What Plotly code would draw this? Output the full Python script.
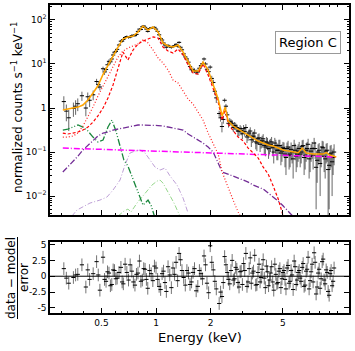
import plotly.graph_objects as go

# ---- model curves, sampled on one energy grid (keV) ----
e_model = [0.306, 0.326, 0.348, 0.371, 0.395, 0.421, 0.449, 0.478, 0.510, 0.543,
           0.579, 0.617, 0.657, 0.700, 0.747, 0.795, 0.848, 0.903, 0.963, 1.026,
           1.093, 1.165, 1.241, 1.323, 1.410, 1.502, 1.601, 1.706, 1.818, 1.938,
           2.065, 2.201, 2.316, 2.406, 2.499, 2.663, 2.838, 3.025, 3.223, 3.435,
           3.661, 3.901, 4.157, 4.430, 4.721, 5.031, 5.362, 5.714, 6.089, 6.41,
           6.742, 7.369, 7.853, 8.369, 8.696, 9.033, 9.504, 9.874]

total_model = [0.90, 0.95, 1.00, 1.05, 1.17, 1.52, 2.19, 3.2, 5.8, 9.5,
               15.2, 24.3, 37.0, 41.1, 43.3, 53.4, 73.1, 59.2, 69.3, 53.4,
               30.0, 25.7, 24.3, 27.0, 18.7, 11.1, 6.93, 6.93, 11.1, 7.31,
               3.51, 1.60, 0.66, 1.05, 0.51, 0.39, 0.333, 0.285, 0.243, 0.208,
               0.178, 0.160, 0.144, 0.137, 0.123, 0.111, 0.105, 0.100, 0.097, 0.123,
               0.095, 0.090, 0.090, 0.090, 0.097, 0.086, 0.081, 0.077]

hot_apec = [0.27, 0.257, 0.27, 0.285, 0.316, 0.37, 0.48, 0.66, 1.0, 1.69,
            3.33, 8.11, 18.7, 12.3, 20.8, 28.5, 33.3, 37.0, 41.1, 39.0,
            24.3, 19.7, 17.8, 21.9, 16.0, 9.49, 6.24, 5.93, 10.0, 5.62,
            2.85, 1.37, 0.53, 0.95, 0.433, 0.30, 0.219, 0.178, 0.123, 0.095,
            0.073, 0.0456, 0.0316, 0.0169, 0.00855, 0.00351, 0.0015, None, None, None,
            None, None, None, None, None, None, None, None]

cool_apec = [0.219, 0.219, 0.231, 0.27, 0.39, 0.624, 1.05, 1.87, 3.16, 5.34,
             9.0, 14.4, 19.7, 23.1, 25.7, 28.5, 35.1, 30.0, 20.8, 13.7,
             10.5, 7.31, 4.33, 3.70, 2.43, 1.60, 1.23, 0.81, 0.53, 0.27,
             0.16, 0.09, 0.035, 0.0231, 0.0152, 0.0081, 0.00433, 0.0026, None, None,
             None, None, None, None, None, None, None, None, None, None,
             None, None, None, None, None, None, None, None]

bkg_curve = [0.0351, 0.0456, 0.0593, 0.081, 0.111, 0.144, 0.187, 0.231, 0.27, 0.285,
             0.316, 0.333, 0.351, 0.37, 0.39, 0.411, 0.411, 0.411, 0.411, 0.40,
             0.39, 0.37, 0.351, 0.333, 0.316, 0.257, 0.219, 0.187, 0.16, 0.13,
             0.10, 0.0562, 0.0351, 0.0333, 0.0316, 0.0285, 0.0256, 0.0231, 0.0208, 0.0178,
             0.016, 0.0144, 0.0117, 0.00949, 0.00769, 0.00593, 0.00456, 0.00333, 0.0026, None,
             None, None, None, None, None, None, None, None]

# flat power law
e_pow = [0.306, 0.449, 0.657, 0.963, 1.410, 2.065, 3.025, 4.430, 6.489, 9.874]
pow_curve = [0.123, 0.117, 0.111, 0.105, 0.103, 0.097, 0.093, 0.088, 0.083, 0.077]

# soft components
e_green = [0.306, 0.326, 0.348, 0.371, 0.395, 0.421, 0.449, 0.478, 0.510, 0.543,
           0.571, 0.601, 0.633, 0.665, 0.700, 0.747, 0.795, 0.848, 0.903, 0.938, 0.987]
green_curve = [0.316, 0.333, 0.370, 0.411, 0.370, 0.300, 0.219, 0.169, 0.187, 0.370,
               0.533, 0.300, 0.137, 0.0658, 0.048, 0.0243, 0.0123, 0.00624, 0.0081, 0.00624, 0.00316]

e_lav = [0.3435, 0.366, 0.432, 0.490, 0.536, 0.579, 0.633, 0.674, 0.718, 0.765,
         0.816, 0.870, 0.927, 0.987, 1.052, 1.121, 1.195, 1.306, 1.410, 1.502]
lav_curve = [0.00351, 0.00481, 0.00693, 0.0081, 0.00949, 0.0137, 0.0231, 0.0507, 0.0949, 0.105,
             0.111, 0.0949, 0.0658, 0.0456, 0.039, 0.0433, 0.0285, 0.0178, 0.009, 0.00411]

e_lgreen = [0.617, 0.665, 0.700, 0.727, 0.785, 0.837, 0.892, 0.950, 1.013, 1.052,
            1.093, 1.150, 1.195, 1.257, 1.323, 1.374]
lgreen_curve = [0.00351, 0.00456, 0.00507, 0.00433, 0.00693, 0.00949, 0.0137, 0.0178, 0.0219, 0.0231,
                0.0197, 0.0137, 0.0105, 0.00693, 0.00433, 0.00316]

# ---- spectrum data (first set of bins) ----
e_data = [0.31, 0.33, 0.35, 0.37, 0.39, 0.41, 0.43, 0.45, 0.47, 0.49,
          0.51, 0.53, 0.55, 0.57, 0.59, 0.61, 0.64, 0.66, 0.69, 0.72,
          0.75, 0.78, 0.81, 0.84, 0.87, 0.90, 0.94, 0.98, 1.02, 1.06,
          1.10, 1.14, 1.19, 1.24, 1.29, 1.34, 1.39, 1.45, 1.51, 1.57,
          1.63, 1.70, 1.77, 1.84, 1.91, 1.99, 2.07, 2.15,
          2.23, 2.31, 2.39, 2.47, 2.55, 2.63, 2.71, 2.79, 2.87, 2.95,
          3.04, 3.13, 3.22, 3.31, 3.40, 3.50, 3.60, 3.70, 3.80, 3.90,
          4.01, 4.12, 4.23, 4.34, 4.46, 4.58, 4.70, 4.82, 4.95,
          5.08, 5.21, 5.35, 5.49, 5.63, 5.78, 5.93,
          6.08, 6.24, 6.40, 6.56, 6.73, 6.90,
          7.08, 7.26, 7.45, 7.64, 7.84,
          8.04, 8.25, 8.46, 8.68, 8.90,
          9.13, 9.36, 9.60]

counts = [1.4, 0.6, 0.98, 1.25, 1.9, 1.0, 1.5, 2.0, 4.0, 3.0,
          7.8, 7.5, 11.5, 13.0, 18.5, 21.5, 33, 36, 42, 41,
          45, 47, 62, 70, 68, 55, 66, 68, 55, 38,
          30, 24, 25, 25, 28, 31, 21, 14.5, 11, 7.4,
          7.1, 6.6, 9.2, 13.0, 7.6, 8.5, 3.8, 1.7,
          0.75, 0.38, 1.5, 0.7, 0.5, 0.45, 0.4, 0.36, 0.3, 0.31,
          0.34, 0.36, 0.24, 0.3, 0.22, 0.27, 0.16, 0.21, 0.17, 0.2,
          0.13, 0.16, 0.14, 0.17, 0.10, 0.14, 0.11, 0.14, 0.105,
          0.12, 0.075, 0.13, 0.09, 0.10, 0.14, 0.08,
          0.105, 0.09, 0.135, 0.075, 0.11, 0.15,
          0.08, 0.12, 0.16, 0.045, 0.10,
          0.055, 0.13, 0.08, 0.105, 0.04,
          0.09, 0.06, 0.10]

count_err = [0.45, 0.3, 0.35, 0.4, 0.45, 0.35, 0.45, 0.5, 0.6, 0.5,
             0.9, 1.0, 1.3, 1.4, 1.7, 1.9, 2.4, 2.5, 2.8, 2.8,
             3.0, 3.0, 3.5, 4.0, 4.0, 3.5, 4.0, 4.0, 3.5, 3.0,
             2.5, 2.0, 2.0, 2.0, 2.0, 2.2, 1.8, 1.5, 1.2, 1.0,
             0.9, 0.9, 1.0, 1.2, 1.0, 0.9, 0.6, 0.4,
             0.12, 0.1, 0.16, 0.12, 0.09, 0.08, 0.08, 0.07, 0.07, 0.07,
             0.07, 0.07, 0.06, 0.065, 0.06, 0.06, 0.055, 0.055, 0.05, 0.055,
             0.05, 0.05, 0.05, 0.05, 0.045, 0.05, 0.045, 0.05, 0.045,
             0.045, 0.045, 0.05, 0.045, 0.045, 0.05, 0.045,
             0.045, 0.045, 0.05, 0.045, 0.05, 0.05,
             0.045, 0.05, 0.05, 0.04, 0.05,
             0.045, 0.05, 0.045, 0.05, 0.038,
             0.05, 0.05, 0.05]

resid = [1.2, -1.1, -0.2, 0.3, 1.8, -1.7, -0.5, 0.4, 2.3, -2.2,
         3.0, -0.8, 0.5, -1.3, 0.9, -0.3, 1.4, -1.2, 0.6, 1.8,
         -0.9, 0.3, 2.4, -0.6, 1.1, -1.9, 0.4, 1.6, -0.5, -2.1,
         0.8, -2.4, 0.2, 1.3, 2.2, 3.6, 0.9, -1.4, 0.5, -0.9,
         1.2, -1.6, 0.4, 3.2, -1.1, 4.8, 1.0, -2.0,
         -4.3, -3.2, 3.1, 0.6, -1.2, 2.5, -0.4, 1.1, -1.7, 0.8,
         2.0, 3.6, -0.9, 2.9, 0.5, 3.3, -1.3, 1.9, -0.2, 2.6,
         -1.8, 0.7, -0.6, 1.5, -2.2, 0.3, -1.0, 1.2, -0.4,
         0.9, -2.0, 1.7, -0.8, 0.2, 2.4, -1.3,
         0.6, -0.3, 1.4, -1.6, 0.8, 3.0,
         -0.7, 1.9, 3.7, -2.8, 0.5,
         -1.9, 2.3, -0.6, 1.0, -2.4,
         0.4, -1.5, 1.3]

# ---- spectrum data (bins in between) ----
e_data_b = [0.32, 0.36, 0.42, 0.48,
            0.52, 0.54, 0.56, 0.58, 0.60, 0.625, 0.65, 0.675, 0.705, 0.735,
            0.765, 0.795, 0.825, 0.855, 0.885, 0.92, 0.96, 1.00, 1.04, 1.08,
            1.12, 1.165, 1.215, 1.265, 1.315, 1.365, 1.42, 1.48, 1.54, 1.60,
            1.665, 1.735, 1.805, 1.875, 1.95, 2.03, 2.11,
            2.27, 2.35, 2.43, 2.51, 2.59, 2.67, 2.75, 2.83, 2.91, 2.995,
            3.085, 3.175, 3.265, 3.355, 3.45, 3.55, 3.65, 3.75, 3.85, 3.955,
            4.065, 4.175, 4.285, 4.40, 4.52, 4.64, 4.76, 4.885,
            5.015, 5.145, 5.28, 5.42, 5.56, 5.705, 5.855,
            6.005, 6.16, 6.32, 6.48, 6.645, 6.815, 6.99,
            7.17, 7.355, 7.545, 7.74, 7.94,
            8.145, 8.355, 8.57, 8.79, 9.015,
            9.245, 9.48]

counts_b = [0.85, 1.1, 1.8, 3.4,
            6.6, 9.6, 11.2, 16.0, 19.2, 27, 33, 40, 40, 44,
            44, 55, 61, 73, 62, 64, 67, 62, 46, 35,
            27, 26.5, 24, 26, 25.5, 24, 17, 13, 8.8, 7.3,
            6.6, 8.0, 10.2, 10.0, 6.7, 4.7, 2.4,
            0.6, 0.55, 1.1, 0.45, 0.48, 0.36, 0.39, 0.30, 0.34, 0.26,
            0.29, 0.22, 0.27, 0.19, 0.23, 0.17, 0.2, 0.15, 0.18, 0.14,
            0.17, 0.12, 0.15, 0.125, 0.16, 0.11, 0.14, 0.095,
            0.125, 0.09, 0.12, 0.085, 0.115, 0.07, 0.11,
            0.09, 0.12, 0.1, 0.14, 0.085, 0.12, 0.07,
            0.105, 0.085, 0.12, 0.065, 0.11,
            0.09, 0.125, 0.07, 0.11, 0.05,
            0.095, 0.075]

count_err_b = [0.35, 0.4, 0.45, 0.6,
               0.95, 1.2, 1.4, 1.6, 1.8, 2.3, 2.5, 2.8, 2.8, 3.0,
               3.0, 3.3, 3.6, 4.0, 3.8, 3.8, 4.0, 3.8, 3.3, 2.8,
               2.3, 2.0, 2.0, 2.0, 2.0, 2.0, 1.6, 1.3, 1.1, 1.0,
               0.9, 0.95, 1.1, 1.1, 0.9, 0.7, 0.45,
               0.11, 0.11, 0.14, 0.09, 0.08, 0.075, 0.075, 0.07, 0.07, 0.065,
               0.065, 0.06, 0.06, 0.06, 0.06, 0.055, 0.055, 0.05, 0.055, 0.05,
               0.05, 0.05, 0.05, 0.045, 0.05, 0.045, 0.05, 0.045,
               0.045, 0.045, 0.045, 0.045, 0.05, 0.045, 0.045,
               0.045, 0.05, 0.045, 0.05, 0.045, 0.05, 0.045,
               0.045, 0.045, 0.05, 0.045, 0.05,
               0.045, 0.05, 0.045, 0.05, 0.045,
               0.05, 0.045]

resid_b = [-0.3, 0.2, 1.0, 0.2,
           -0.5, 0.7, -1.5, 1.0, -0.4, 0.6, -0.9, 1.9, -0.6, 0.8,
           -1.4, 0.5, -0.8, 1.2, -0.5, 0.9, -0.7, 1.3, -1.6, 0.4,
           -1.0, 1.5, -1.8, 0.3, -0.7, 2.6, -0.2, 0.9, -1.3, 0.6,
           -2.3, 0.9, -0.4, 1.8, -2.6, 2.2, -0.8,
           -2.5, -1.0, 1.8, -0.5, 0.9, -0.6, 1.4, -1.0, 0.7, -1.3,
           0.9, -1.6, 1.2, -1.1, 0.8, -1.4, 0.6, -0.9, 1.1, -0.3,
           1.6, -1.5, 0.5, -0.9, 1.9, -1.2, 0.8, -1.8,
           0.6, -0.5, 1.3, -1.1, 0.9, -2.1, 1.5,
           -0.6, 0.9, -0.8, 2.0, -1.4, 1.1, -2.0,
           0.7, -0.9, 2.2, -1.7, 1.1,
           -0.4, 2.7, -1.2, 0.6, -3.0,
           0.9, -0.8]

# ---- figure (no margins: domains in pixels of the 355x351 canvas) ----
W, H = 355, 351


def px(x):
    return x / W


def py(y):
    return (H - y) / H


FONT = "DejaVu Sans"
fig = go.Figure()

fig.add_trace(go.Scatter(
    x=e_data + e_data_b, y=counts + counts_b, mode="markers", xaxis="x", yaxis="y",
    marker=dict(symbol="line-ew", size=3, line=dict(width=1, color="black")),
    error_y=dict(type="data", array=count_err + count_err_b,
                 color="rgba(0,0,0,0.6)", thickness=1, width=0)))

# model components
fig.add_trace(go.Scatter(x=e_lgreen, y=lgreen_curve, mode="lines",
                         line=dict(color="rgb(150,215,140)", width=1, dash="5px,2px,1px,2px")))
fig.add_trace(go.Scatter(x=e_lav, y=lav_curve, mode="lines",
                         line=dict(color="rgb(190,160,215)", width=1, dash="5px,2px,1px,2px")))
fig.add_trace(go.Scatter(x=e_green, y=green_curve, mode="lines",
                         line=dict(color="rgb(25,135,60)", width=1.3, dash="7px,2px,1px,2px,1px,2px")))
fig.add_trace(go.Scatter(x=e_model, y=bkg_curve, mode="lines",
                         line=dict(color="rgb(115,45,150)", width=1.3, dash="6px,2px,1px,2px")))
fig.add_trace(go.Scatter(x=e_pow, y=pow_curve, mode="lines",
                         line=dict(color="#ff00ff", width=1.5, dash="6px,2px,1px,2px")))
fig.add_trace(go.Scatter(x=e_model, y=cool_apec, mode="lines",
                         line=dict(color="#ff2020", width=1.2, dash="1px,2px")))
fig.add_trace(go.Scatter(x=e_model, y=hot_apec, mode="lines",
                         line=dict(color="#ff0000", width=1.2, dash="3px,2px")))
fig.add_trace(go.Scatter(x=e_model, y=total_model, mode="lines",
                         line=dict(color="#ffa500", width=1.5)))

# residual panel
fig.add_trace(go.Scatter(
    x=e_data + e_data_b, y=resid + resid_b, mode="markers", xaxis="x2", yaxis="y2",
    marker=dict(symbol="line-ew", size=3, line=dict(width=1, color="black")),
    error_y=dict(type="constant", value=1, color="rgba(0,0,0,0.55)", thickness=1, width=0)))

x_range = [-0.585, 1.0645]
x_major = [0.5, 1, 2, 5]
x_minor = [0.3, 0.4, 0.6, 0.7, 0.8, 0.9, 3, 4, 6, 7, 8, 9, 10]
y_major = [0.01, 0.1, 1, 10, 100]
y_labels = ["10<sup>−2</sup>", "10<sup>−1</sup>", "1", "10<sup>1</sup>", "10<sup>2</sup>"]
y_minor = [0.004, 0.005, 0.006, 0.007, 0.008, 0.009,
           0.02, 0.03, 0.04, 0.05, 0.06, 0.07, 0.08, 0.09,
           0.2, 0.3, 0.4, 0.5, 0.6, 0.7, 0.8, 0.9,
           2, 3, 4, 5, 6, 7, 8, 9,
           20, 30, 40, 50, 60, 70, 80, 90, 200]

axis_style = dict(showline=True, linecolor="black", linewidth=1.5, mirror="allticks",
                  ticks="inside", ticklen=5, tickwidth=1, tickcolor="black",
                  showgrid=False, zeroline=False, automargin=False,
                  tickfont=dict(family=FONT, size=9, color="black"))
x_dom = [px(50), px(349)]

fig.update_layout(
    width=W, height=H, margin=dict(l=0, r=0, t=0, b=0),
    paper_bgcolor="white", plot_bgcolor="white", showlegend=False,
    font=dict(family=FONT, color="black"),
    xaxis=dict(type="log", range=x_range, domain=x_dom, anchor="y",
               tickvals=x_major, showticklabels=False,
               minor=dict(tickvals=x_minor, ticks="inside", ticklen=2.5, tickcolor="black"),
               **axis_style),
    yaxis=dict(type="log", range=[-2.43, 2.34], domain=[py(215), py(5)], anchor="x",
               tickvals=y_major, ticktext=y_labels,
               minor=dict(tickvals=y_minor, ticks="inside", ticklen=2.5, tickcolor="black"),
               **axis_style),
    xaxis2=dict(type="log", range=x_range, domain=x_dom, anchor="y2",
                tickvals=x_major, ticktext=["0.5", "1", "2", "5"],
                minor=dict(tickvals=x_minor, ticks="inside", ticklen=2.5, tickcolor="black"),
                **axis_style),
    yaxis2=dict(range=[-5.8, 5.4], domain=[py(313), py(242)], anchor="x2",
                tickvals=[-5, -2.5, 0, 2.5, 5], ticktext=["-5", "-2.5", "0", "2.5", "5"],
                **axis_style),
)

# zero line in residual panel
fig.add_shape(type="line", xref="x2 domain", yref="y2", x0=0, x1=1, y0=0, y1=0,
              line=dict(color="black", width=1))


def label(text, x, y, size=12, angle=0, **kw):
    fig.add_annotation(text=text, xref="paper", yref="paper", x=px(x), y=py(y),
                       xanchor="center", yanchor="middle", textangle=angle,
                       showarrow=False, font=dict(family=FONT, size=size), **kw)


# axis titles and labels
label("Energy (keV)", 200, 337, size=13)
label("normalized counts s<sup>−1</sup> keV<sup>−1</sup>", 17, 108, angle=-90)
label("data − model", 11, 278, angle=-90)
label("error", 24, 277, angle=-90)
fig.add_shape(type="line", xref="paper", yref="paper",
              x0=px(17.5), x1=px(17.5), y0=py(237), y1=py(319),
              line=dict(color="black", width=1))

label("Region C", 308, 43, size=13,
      bordercolor="#999999", borderwidth=1, borderpad=3, bgcolor="white")

# the page body has a default 8px margin; drop it so the 355x351 figure fills the window
fig.write_html("out.html", config={"displayModeBar": False},
               post_script="document.body.style.margin='0';document.body.style.overflow='hidden';")
